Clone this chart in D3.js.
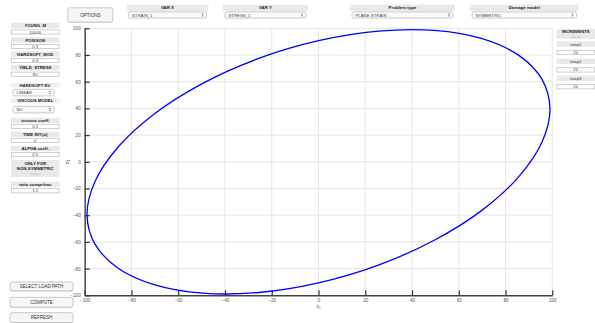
<!DOCTYPE html>
<html>
<head>
<meta charset="utf-8">
<script src="https://cdn.jsdelivr.net/npm/d3@7"></script>
<style>
  html, body { margin: 0; padding: 0; background: #fff; }
  svg { display: block; font-family: "Liberation Sans", Arial, sans-serif; }
</style>
</head>
<body>
<svg id="chart" width="595" height="323"></svg>
<script>
// Loading path: strain (x) and stress (y) samples around the cycle
const strainPath = [99, 95.6, 85.7, 70.0, 49.5, 25.6, 0, -25.6, -49.5, -70.0, -85.7, -95.6,
                    -99, -95.6, -85.7, -70.0, -49.5, -25.6, 0, 25.6, 49.5, 70.0, 85.7, 95.6];
const stressPath = [39.6, 61.7, 79.7, 92.2, 98.4, 97.9, 90.7, 77.4, 58.8, 36.2, 11.1, -14.8,
                    -39.6, -61.7, -79.7, -92.2, -98.4, -97.9, -90.7, -77.4, -58.8, -36.2, -11.1, 14.8];

const xTicks = [-100, -80, -60, -40, -20, 0, 20, 40, 60, 80, 100];
const yTicks = [-100, -80, -60, -40, -20, 0, 20, 40, 60, 80, 100];

// Material parameter fields in the left panel
const paramNames = ["YOUNG_M", "POISSON", "HARDSOFT_MOD", "YIELD_STRESS"];
const paramValues = ["20000", "0.3", "0.3", "85"];
const viscNames = ["viscous coeff.", "TIME INT.(\u03b1)", "ALPHA coeff."];
const viscValues = ["0.5", "0", "0.5"];
const ratioName = "ratio compr/trac";
const ratioValue = "1.5";

// Top selectors
const topSelNames = ["VAR X", "VAR Y", "Problem type", "Damage model"];
const topSelValues = ["STRAIN_1", "STRESS_1", "PLANE STRAIN", "SYMMETRIC"];

// Increments panel
const stepNames = ["istep1", "istep2", "istep3"];
const stepValues = ["20", "20", "20"];

const svg = d3.select("#chart");
const font = "\"Liberation Sans\", Arial, sans-serif";

// ---------- plot ----------
const plot = { left: 84.7, right: 552.3, top: 28.3, bottom: 295.3 };
const x = d3.scaleLinear().domain([-100, 100]).range([plot.left, plot.right]);
const y = d3.scaleLinear().domain([-100, 100]).range([plot.bottom, plot.top]);

const grid = svg.append("g");
grid.selectAll("line.v").data(xTicks).join("line")
  .attr("x1", d => x(d)).attr("x2", d => x(d))
  .attr("y1", plot.top).attr("y2", plot.bottom)
  .attr("stroke", "#e6e6e6").attr("stroke-width", 1);
grid.selectAll("line.h").data(yTicks).join("line")
  .attr("x1", plot.left).attr("x2", plot.right)
  .attr("y1", d => y(d)).attr("y2", d => y(d))
  .attr("stroke", "#e6e6e6").attr("stroke-width", 1);

// axes with inward ticks
const xAxis = d3.axisBottom(x).tickValues(xTicks).tickSizeInner(-5).tickSizeOuter(0).tickPadding(4);
const yAxis = d3.axisLeft(y).tickValues(yTicks).tickSizeInner(-5).tickSizeOuter(0).tickPadding(4);

const gx = svg.append("g").attr("transform", `translate(0,${plot.bottom})`).call(xAxis);
const gy = svg.append("g").attr("transform", `translate(${plot.left},0)`).call(yAxis);
[gx, gy].forEach(g => {
  g.select(".domain").attr("stroke", "#444").attr("stroke-width", 1.4);
  g.selectAll(".tick line").attr("stroke", "#333").attr("stroke-width", 1.2);
  g.selectAll(".tick text").attr("fill", "#555").style("font-size", "4.6px").style("font-family", font);
});
gx.selectAll(".tick text").attr("dy", "0.6em");

// axis titles
svg.append("text").attr("x", x(0)).attr("y", 307.5).attr("text-anchor", "middle")
  .attr("fill", "#555").style("font-size", "5px").style("font-family", font)
  .html('\u03b5<tspan font-size="3.5px" dy="1.2">1</tspan>');
svg.append("text")
  .attr("transform", `translate(${69},${y(0)}) rotate(-90)`)
  .attr("text-anchor", "middle").attr("fill", "#555").style("font-size", "5px").style("font-family", font)
  .html('\u03c3<tspan font-size="3.5px" dy="1.2">1</tspan>');

// loading cycle
const pts = strainPath.map((s, i) => [s, stressPath[i]]);
svg.append("path")
  .datum(pts)
  .attr("d", d3.line().x(d => x(d[0])).y(d => y(d[1])).curve(d3.curveCatmullRomClosed.alpha(0.5)))
  .attr("fill", "none").attr("stroke", "#0000ff").attr("stroke-width", 1.3);

// ---------- widget helpers ----------
function labelBox(g, x0, y0, w, h, text, opts = {}) {
  g.append("rect").attr("x", x0).attr("y", y0).attr("width", w).attr("height", h)
    .attr("fill", opts.fill || "#e9e9e9");
  g.append("text").attr("x", x0 + w / 2).attr("y", y0 + h / 2).attr("dy", "0.35em")
    .attr("text-anchor", "middle").attr("fill", opts.color || "#222")
    .style("font-size", (opts.size || 4.3) + "px").style("font-weight", opts.weight || "bold")
    .style("font-family", font).text(text);
}
function valueBox(g, x0, y0, w, h, text) {
  g.append("rect").attr("x", x0 + 0.5).attr("y", y0 + 0.5).attr("width", w - 1).attr("height", h - 1)
    .attr("fill", "#fff").attr("stroke", "#c4c4c4").attr("stroke-width", 0.8);
  g.append("text").attr("x", x0 + w / 2).attr("y", y0 + h / 2).attr("dy", "0.35em")
    .attr("text-anchor", "middle").attr("fill", "#444")
    .style("font-size", "4.3px").style("font-family", font).text(text);
}
function selectBox(g, x0, y0, w, h, text) {
  g.append("rect").attr("x", x0 + 0.5).attr("y", y0 + 0.5).attr("width", w - 1).attr("height", h - 1)
    .attr("rx", 1.5).attr("fill", "#fafafa").attr("stroke", "#bdbdbd").attr("stroke-width", 0.8);
  g.append("text").attr("x", x0 + 4).attr("y", y0 + h / 2).attr("dy", "0.35em")
    .attr("fill", "#444").style("font-size", "4.3px").style("font-family", font).text(text);
  const ax = x0 + w - 4.5, ay = y0 + h / 2;
  g.append("path").attr("d", `M${ax - 1},${ay - 0.6}L${ax},${ay - 1.8}L${ax + 1},${ay - 0.6}Z M${ax - 1},${ay + 0.6}L${ax},${ay + 1.8}L${ax + 1},${ay + 0.6}Z`)
    .attr("fill", "#555");
}
function button(g, x0, y0, w, h, text) {
  g.append("rect").attr("x", x0 + 0.5).attr("y", y0 + 1).attr("width", w - 1).attr("height", h - 1)
    .attr("rx", 2).attr("fill", "#d8d8d8");
  g.append("rect").attr("x", x0 + 0.5).attr("y", y0 + 0.5).attr("width", w - 1).attr("height", h - 1.2)
    .attr("rx", 2).attr("fill", "#f6f6f6").attr("stroke", "#bcbcbc").attr("stroke-width", 0.8);
  g.append("text").attr("x", x0 + w / 2).attr("y", y0 + h / 2).attr("dy", "0.35em")
    .attr("text-anchor", "middle").attr("fill", "#333")
    .style("font-size", "4.5px").style("font-family", font).text(text);
}

// ---------- left panel ----------
const leftPanel = svg.append("g");
const lx = 11, lw = 48.5;
const paramTop = [22.8, 37.3, 51.3, 65];
paramNames.forEach((n, i) => {
  labelBox(leftPanel, lx, paramTop[i], lw, 5.4, n);
  valueBox(leftPanel, lx, paramTop[i] + 6.6, lw, 5.2, paramValues[i]);
});
labelBox(leftPanel, lx, 83, lw, 4.4, "HARDSOFT EV.", { fill: "#f0f0f0" });
selectBox(leftPanel, 12.5, 88.8, 42, 7.6, "LINEAR");
labelBox(leftPanel, lx, 98.5, lw, 4.4, "VISCOUS MODEL", { fill: "#f0f0f0" });
selectBox(leftPanel, 12.5, 105.8, 42, 7.6, "NO");

const viscTop = [117.8, 131.8, 146];
viscNames.forEach((n, i) => {
  labelBox(leftPanel, lx, viscTop[i], lw, 5.2, n);
  valueBox(leftPanel, lx, viscTop[i] + 6, lw, 5.2, viscValues[i]);
});

leftPanel.append("rect").attr("x", lx).attr("y", 160).attr("width", lw).attr("height", 17).attr("fill", "#e9e9e9");
leftPanel.append("text").attr("x", lx + lw / 2).attr("y", 163.6).attr("dy", "0.35em").attr("text-anchor", "middle")
  .attr("fill", "#222").style("font-size", "4.3px").style("font-weight", "bold").style("font-family", font).text("ONLY FOR");
leftPanel.append("text").attr("x", lx + lw / 2).attr("y", 168.6).attr("dy", "0.35em").attr("text-anchor", "middle")
  .attr("fill", "#222").style("font-size", "4.3px").style("font-weight", "bold").style("font-family", font).text("NON-SYMMETRIC");
leftPanel.append("line").attr("x1", lx + lw / 2 - 5).attr("x2", lx + lw / 2 + 5).attr("y1", 174).attr("y2", 174)
  .attr("stroke", "#999").attr("stroke-width", 0.6).attr("stroke-dasharray", "0.8,0.4");

labelBox(leftPanel, lx, 181.6, lw, 5.2, ratioName);
valueBox(leftPanel, lx, 187.9, lw, 5.4, ratioValue);

button(leftPanel, 9.5, 281.5, 64, 10, "SELECT LOAD PATH");
button(leftPanel, 9.5, 296.8, 64, 11, "COMPUTE");
button(leftPanel, 9.5, 312.2, 64, 11, "REFRESH");

// ---------- top bar ----------
const topBar = svg.append("g");
button(topBar, 67.3, 7.3, 46, 15.5, "OPTIONS");
const selX = [126.5, 223, 350, 470];
const selW = [82, 85, 105, 108.5];
topSelNames.forEach((n, i) => {
  labelBox(topBar, selX[i], 4.6, selW[i], 6.4, n, { size: 4.4 });
  selectBox(topBar, selX[i] + 1.5, 11.4, selW[i] - 3, 7.2, topSelValues[i]);
});

// ---------- increments panel ----------
const incPanel = svg.append("g");
const rx = 556.5, rw = 38.5;
incPanel.append("rect").attr("x", rx).attr("y", 29).attr("width", rw).attr("height", 10).attr("fill", "#e9e9e9");
incPanel.append("text").attr("x", rx + rw / 2).attr("y", 32).attr("dy", "0.35em").attr("text-anchor", "middle")
  .attr("fill", "#222").style("font-size", "4.2px").style("font-weight", "bold").style("font-family", font).text("INCREMENTS");
incPanel.append("line").attr("x1", rx + rw / 2 - 5).attr("x2", rx + rw / 2 + 5).attr("y1", 37).attr("y2", 37)
  .attr("stroke", "#999").attr("stroke-width", 0.6).attr("stroke-dasharray", "0.8,0.4");
const stepTop = [41.3, 58.7, 75.5];
stepNames.forEach((n, i) => {
  labelBox(incPanel, rx, stepTop[i], rw, 5.4, n, { weight: "normal", color: "#333" });
  valueBox(incPanel, rx, stepTop[i] + 8.5, rw, 5.4, stepValues[i]);
});
</script>
</body>
</html>
